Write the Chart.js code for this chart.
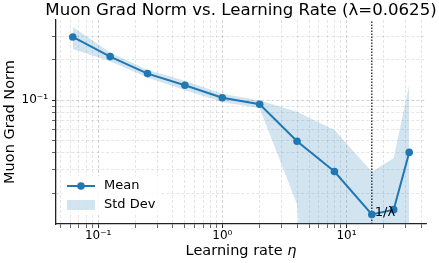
<!DOCTYPE html>
<html>
<head>
<meta charset="utf-8">
<script src="https://cdn.jsdelivr.net/npm/chart.js@4.4.1/dist/chart.umd.min.js"></script>
<style>
  html, body { margin: 0; padding: 0; background: #fff; }
  #wrap { width: 439px; height: 263px; }
</style>
</head>
<body>
<div id="wrap"><canvas id="gradChart" width="439" height="263"></canvas></div>
<script>
const learningRates = [0.0625, 0.125, 0.25, 0.5, 1, 2, 4, 8, 16, 24, 32];
const meanGradNorm = [0.298, 0.212, 0.158, 0.129, 0.104, 0.093, 0.049, 0.029, 0.0138, 0.0150, 0.0404];
const stdGradNorm = [0.056, 0.016, 0.010, 0.0105, 0.0075, 0.0062, 0.0325, 0.0305, 0.0151, 0.0215, 0.0896];

const lambda = 0.0625;
const inverseLambda = 1 / lambda;
const lambdaLabelY = 0.0142;

const xTickValues = [0.05, 0.06, 0.07, 0.08, 0.09, 0.1, 0.2, 0.3, 0.4, 0.5, 0.6, 0.7, 0.8, 0.9,
  1, 2, 3, 4, 5, 6, 7, 8, 9, 10, 20, 30, 40];
const yTickValues = [0.02, 0.03, 0.04, 0.05, 0.06, 0.07, 0.08, 0.09, 0.1, 0.2, 0.3];
const tickLabels = { "0.1": "10\u207B\u00B9", "1": "10\u2070", "10": "10\u00B9" };

const X_MIN = 0.0458;
const X_MAX = 43.7;
const Y_MIN = 0.0117;
const Y_MAX = 0.3995;

const BLUE = "#1f77b4";
const BAND = "rgba(31, 119, 180, 0.2)";
const FONT = '"DejaVu Sans", "Liberation Sans", sans-serif';

// mean +/- std, non-positive lower bounds pushed far below the axis (log scale)
const upperBand = learningRates.map((x, i) => ({ x, y: meanGradNorm[i] + stdGradNorm[i] }));
const lowerBand = learningRates.map((x, i) => {
  const v = meanGradNorm[i] - stdGradNorm[i];
  return { x, y: v > 0 ? v : 1e-6 };
});
const meanPoints = learningRates.map((x, i) => ({ x, y: meanGradNorm[i] }));

function isMajor(v) {
  return tickLabels[String(v)] !== undefined;
}

const decorations = {
  id: "decorations",
  afterDraw(chart) {
    const { ctx, chartArea, scales } = chart;
    const cx = (chartArea.left + chartArea.right) / 2;
    const cy = (chartArea.top + chartArea.bottom) / 2;
    ctx.save();
    ctx.fillStyle = "#000";

    // title
    ctx.font = `16.6px ${FONT}`;
    ctx.textAlign = "center";
    ctx.textBaseline = "alphabetic";
    ctx.fillText("Muon Grad Norm vs. Learning Rate (\u03BB=0.0625)", cx, 14.5);

    // x axis label with italic eta
    const plain = "Learning rate ";
    ctx.font = `14.5px ${FONT}`;
    const w1 = ctx.measureText(plain).width;
    ctx.font = `italic 14.5px ${FONT}`;
    const w2 = ctx.measureText("\u03B7").width;
    const startX = cx - (w1 + w2) / 2;
    ctx.textAlign = "left";
    ctx.font = `14.5px ${FONT}`;
    ctx.fillText(plain, startX, 255);
    ctx.font = `italic 14.5px ${FONT}`;
    ctx.fillText("\u03B7", startX + w1, 255);

    // y axis label
    ctx.save();
    ctx.translate(10, cy);
    ctx.rotate(-Math.PI / 2);
    ctx.font = `14.5px ${FONT}`;
    ctx.textAlign = "center";
    ctx.textBaseline = "middle";
    ctx.fillText("Muon Grad Norm", 0, 0);
    ctx.restore();

    // 1/lambda annotation
    ctx.font = `13px ${FONT}`;
    ctx.textAlign = "left";
    ctx.textBaseline = "middle";
    ctx.fillText("1/\u03BB", scales.x.getPixelForValue(inverseLambda) + 3, scales.y.getPixelForValue(lambdaLabelY));

    // legend
    const lx = 62, ly = 176;
    ctx.fillStyle = "rgba(255, 255, 255, 0.8)";
    ctx.fillRect(lx, ly, 98, 38);
    ctx.strokeStyle = BLUE;
    ctx.lineWidth = 2;
    ctx.beginPath();
    ctx.moveTo(67, 186);
    ctx.lineTo(95, 186);
    ctx.stroke();
    ctx.fillStyle = BLUE;
    ctx.beginPath();
    ctx.arc(81, 186, 3.8, 0, Math.PI * 2);
    ctx.fill();
    ctx.fillStyle = BAND;
    ctx.fillRect(67, 200, 28, 10);
    ctx.fillStyle = "#000";
    ctx.font = `13px ${FONT}`;
    ctx.fillText("Mean", 104, 186);
    ctx.fillText("Std Dev", 104, 205);
    ctx.restore();
  },
};

function gridColor(ctx) {
  if (!ctx.tick) return "rgba(0,0,0,0.13)";
  return isMajor(ctx.tick.value) ? "rgba(0,0,0,0.22)" : "rgba(0,0,0,0.13)";
}

function tickWidth(ctx) {
  if (!ctx.tick) return 0.8;
  return isMajor(ctx.tick.value) ? 1 : 0.7;
}

const chart = new Chart(document.getElementById("gradChart"), {
  type: "line",
  data: {
    datasets: [
      {
        label: "Mean",
        data: meanPoints,
        borderColor: BLUE,
        backgroundColor: BLUE,
        borderWidth: 2,
        pointRadius: 3.8,
        pointBorderWidth: 0,
        fill: false,
        tension: 0,
      },
      {
        label: "1/lambda",
        data: [{ x: inverseLambda, y: Y_MIN }, { x: inverseLambda, y: Y_MAX }],
        borderColor: "#222",
        borderWidth: 1.3,
        borderDash: [1.5, 1.5],
        pointRadius: 0,
        fill: false,
      },
      {
        label: "Std Dev",
        data: upperBand,
        borderWidth: 0,
        borderColor: "rgba(0,0,0,0)",
        backgroundColor: BAND,
        pointRadius: 0,
        fill: "+1",
        tension: 0,
      },
      {
        label: "lower",
        data: lowerBand,
        borderWidth: 0,
        borderColor: "rgba(0,0,0,0)",
        pointRadius: 0,
        fill: false,
        tension: 0,
      },
    ],
  },
  options: {
    responsive: false,
    animation: false,
    devicePixelRatio: 1,
    layout: { padding: { top: 20, right: 13, left: 0, bottom: 0 } },
    plugins: {
      legend: { display: false },
      tooltip: { enabled: false },
      title: { display: false },
    },
    scales: {
      x: {
        type: "logarithmic",
        min: X_MIN,
        max: X_MAX,
        bounds: "data",
        afterBuildTicks(scale) {
          scale.ticks = xTickValues.map((v) => ({ value: v, major: isMajor(v) }));
        },
        afterFit(scale) {
          scale.height = 39;
        },
        ticks: {
          autoSkip: false,
          maxRotation: 0,
          padding: 1,
          color: "#000",
          font: { family: FONT, size: 12 },
          callback(value) {
            return tickLabels[String(value)] || "";
          },
        },
        grid: {
          color: gridColor,
          lineWidth: 0.8,
          tickLength: 4,
          tickColor: "#222",
          tickWidth: tickWidth,
          tickBorderDash: [],
        },
        border: { display: true, color: "#222", width: 1.3, dash: [3, 2] },
      },
      y: {
        type: "logarithmic",
        min: Y_MIN,
        max: Y_MAX,
        bounds: "data",
        afterBuildTicks(scale) {
          scale.ticks = yTickValues.map((v) => ({ value: v, major: isMajor(v) }));
        },
        afterFit(scale) {
          scale.width = 56;
        },
        ticks: {
          autoSkip: false,
          padding: 4,
          color: "#000",
          font: { family: FONT, size: 12 },
          callback(value) {
            return tickLabels[String(value)] || "";
          },
        },
        grid: {
          color: gridColor,
          lineWidth: 0.8,
          tickLength: 4,
          tickColor: "#222",
          tickWidth: tickWidth,
          tickBorderDash: [],
        },
        border: { display: true, color: "#222", width: 1.3, dash: [3, 2] },
      },
    },
  },
  plugins: [decorations],
});
</script>
</body>
</html>
